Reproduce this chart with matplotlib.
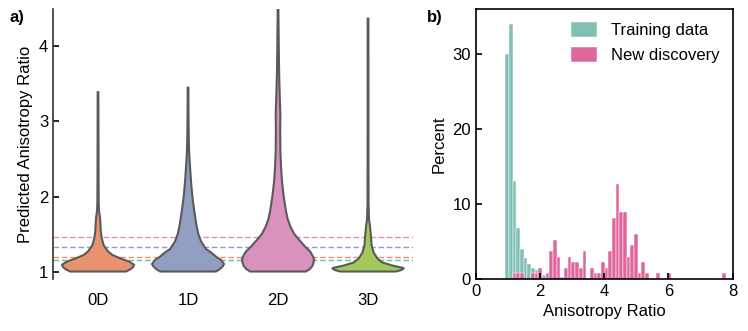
import numpy as np
import matplotlib.pyplot as plt
from matplotlib.patches import Patch

plt.rcParams['font.family'] = ['Liberation Sans', 'DejaVu Sans']
plt.rcParams['font.size'] = 12

# ---- panel a: violin outlines ----
categories = ['0D', '1D', '2D', '3D']
violin_colors = ['#e9926f', '#929fc3', '#d892bd', '#a3c95c']

y_0d = [1.0, 1.03, 1.06, 1.09, 1.13, 1.17, 1.22, 1.27, 1.35, 1.45, 1.55, 1.65, 1.72, 1.8, 1.9, 2.2, 2.8, 3.39]
w_0d = [0.31, 0.36, 0.39, 0.40, 0.35, 0.26, 0.16, 0.11, 0.063, 0.04, 0.03, 0.026, 0.022, 0.012, 0.008, 0.006, 0.005, 0.004]

y_1d = [1.0, 1.03, 1.06, 1.1, 1.15, 1.2, 1.25, 1.3, 1.4, 1.5, 1.6, 1.8, 2.0, 2.2, 2.4, 2.6, 2.8, 3.1, 3.45]
w_1d = [0.31, 0.35, 0.38, 0.40, 0.37, 0.31, 0.26, 0.20, 0.145, 0.115, 0.096, 0.07, 0.048, 0.033, 0.022, 0.012, 0.008, 0.005, 0.004]

y_2d = [1.0, 1.03, 1.07, 1.12, 1.17, 1.22, 1.27, 1.32, 1.4, 1.5, 1.6, 1.7, 1.8, 2.0, 2.2, 2.4, 2.6, 2.9, 3.1, 3.3, 3.6, 4.0, 4.49]
w_2d = [0.31, 0.35, 0.38, 0.395, 0.40, 0.38, 0.355, 0.31, 0.25, 0.18, 0.137, 0.107, 0.089, 0.063, 0.044, 0.033, 0.026, 0.024, 0.026, 0.02, 0.013, 0.008, 0.004]

y_3d = [1.0, 1.02, 1.045, 1.08, 1.12, 1.17, 1.25, 1.35, 1.5, 1.6, 1.7, 1.9, 2.5, 4.37]
w_3d = [0.31, 0.37, 0.40, 0.27, 0.16, 0.107, 0.063, 0.04, 0.03, 0.022, 0.011, 0.006, 0.005, 0.004]

# dashed reference levels
ref_levels = [1.46, 1.33, 1.19, 1.15]
ref_colors = ['#e78ac3', '#8da0cb', '#fc8d62', '#66c2a5']

# ---- panel b: histogram (percent per bin) ----
bin_start = 0.92
bin_width = 0.1145
training = [30, 34, 13, 6.8, 4.0, 2.8, 2.0, 1.4, 1.1, 0.9,
            0.45, 0.3, 0.2, 0.1, 0.1, 0.2, 0, 0, 0, 0,
            0, 0, 0, 0, 0, 0, 0, 0, 0, 0,
            0, 0, 0, 0, 0, 0, 0, 0, 0, 0,
            0, 0, 0, 0, 0, 0, 0, 0, 0, 0,
            0, 0, 0, 0, 0, 0, 0, 0, 0, 0]
discovery = [0, 0, 0.74, 0.74, 0.74, 0, 0, 0.74, 0.74, 1.48,
             0, 0.74, 3.7, 5.19, 2.96, 0, 1.48, 2.96, 2.22, 2.22,
             1.48, 3.7, 0, 1.48, 0.74, 0.74, 2.22, 1.48, 3.7, 8.15,
             12.59, 8.89, 8.89, 2.96, 4.44, 5.93, 0.74, 2.22, 0.74, 0,
             0, 0.74, 0, 0, 0.74, 0, 0, 0, 0, 0,
             0, 0, 0, 0, 0, 0, 0, 0, 0, 0.74]

fig = plt.figure(figsize=(7.48, 3.31), dpi=100)
ax1 = fig.add_axes([0.0709, 0.157, 0.4813, 0.816])
ax2 = fig.add_axes([0.636, 0.158, 0.3435, 0.815])

# panel a
for lvl, c in zip(ref_levels, ref_colors):
    ax1.axhline(lvl, color=c, lw=1.0, ls=(0, (4, 2)), zorder=1)

profiles = [(y_0d, w_0d), (y_1d, w_1d), (y_2d, w_2d), (y_3d, w_3d)]
for pos, ((yv, wv), col) in enumerate(zip(profiles, violin_colors)):
    yv = np.array(yv)
    wv = np.array(wv)
    xs = np.concatenate([pos - wv, (pos + wv)[::-1]])
    ys = np.concatenate([yv, yv[::-1]])
    ax1.fill(xs, ys, facecolor=col, edgecolor='#5a5a5a', lw=1.5, zorder=2)

ax1.set_xlim(-0.5, 3.5)
ax1.set_ylim(0.9, 4.5)
ax1.set_xticks(range(len(categories)))
ax1.set_xticklabels(categories)
ax1.set_yticks([1, 2, 3, 4])
ax1.tick_params(axis='x', length=0, pad=10)
ax1.tick_params(axis='y', direction='in', length=4, width=1.2)
ax1.set_ylabel('Predicted Anisotropy Ratio')
for s in ['top', 'right', 'bottom']:
    ax1.spines[s].set_visible(False)
ax1.spines['left'].set_linewidth(1.2)
ax1.spines['left'].set_color('#333333')

# panel b
edges = bin_start + bin_width * np.arange(len(training))
ax2.bar(edges, training, width=bin_width, align='edge', color='#80c0b5',
        edgecolor='white', lw=0.35, label='Training data')
ax2.bar(edges, discovery, width=bin_width, align='edge', color='#e0679c',
        edgecolor='white', lw=0.35, label='New discovery')
ax2.set_xlim(0, 8)
ax2.set_ylim(0, 36)
ax2.set_xticks([0, 2, 4, 6, 8])
ax2.set_yticks([0, 10, 20, 30])
ax2.tick_params(direction='in', length=4, width=1.2)
ax2.set_xlabel('Anisotropy Ratio')
ax2.set_ylabel('Percent')
for s in ax2.spines.values():
    s.set_linewidth(1.2)
ax2.legend(loc='upper right', frameon=False, fontsize=12, handlelength=1.6,
           handleheight=1.0, borderaxespad=0.4)

fig.text(0.013, 0.935, 'a)', fontsize=12, fontweight='bold')
fig.text(0.571, 0.935, 'b)', fontsize=12, fontweight='bold')

fig.savefig('out.png', dpi=100)
